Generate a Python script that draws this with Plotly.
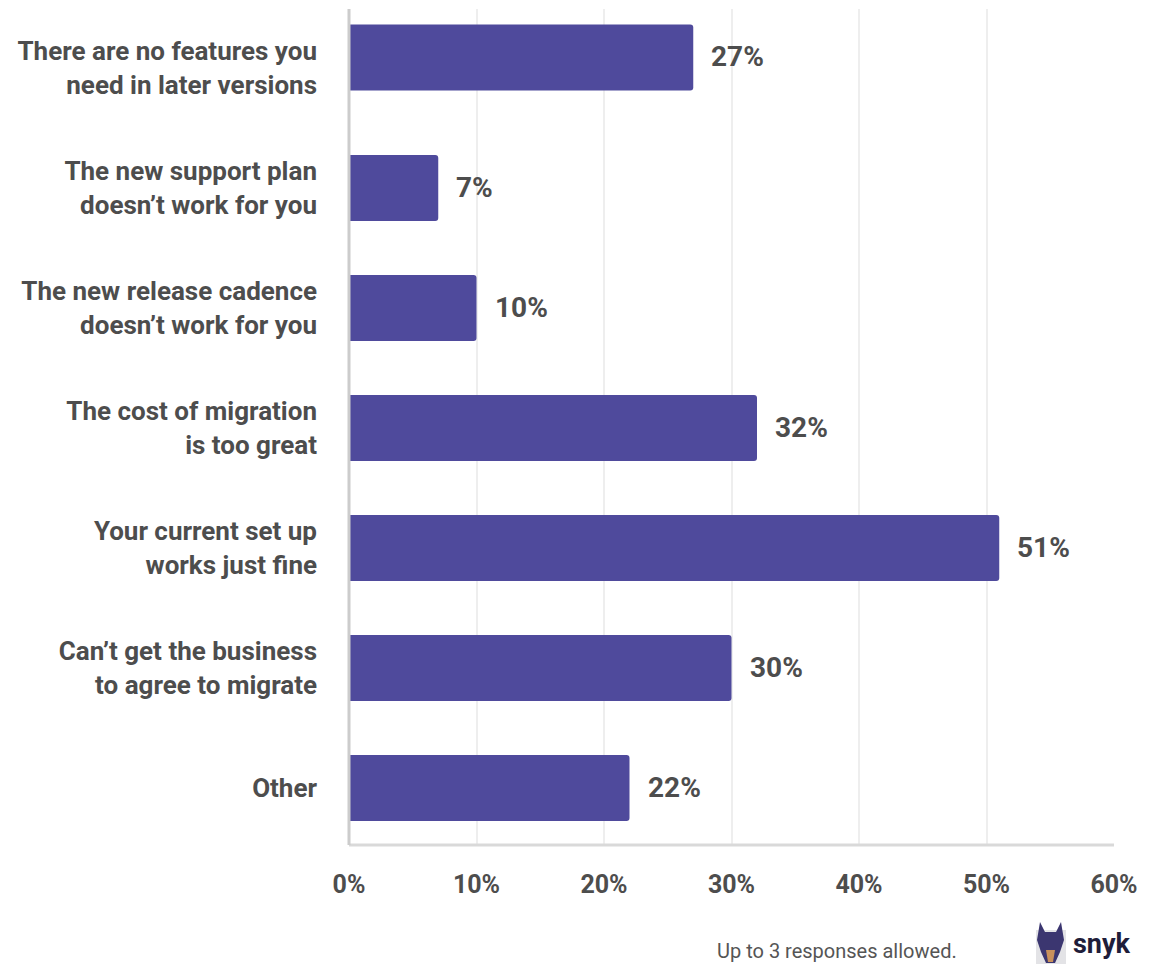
import plotly.graph_objects as go

categories = [
    "There are no features you<br>need in later versions",
    "The new support plan<br>doesn’t work for you",
    "The new release cadence<br>doesn’t work for you",
    "The cost of migration<br>is too great",
    "Your current set up<br>works just fine",
    "Can’t get the business<br>to agree to migrate",
    "Other",
]
values = [27, 7, 10, 32, 51, 30, 22]
value_labels = ["27%", "7%", "10%", "32%", "51%", "30%", "22%"]
tick_vals = [0, 10, 20, 30, 40, 50, 60]
tick_text = ["0%", "10%", "20%", "30%", "40%", "50%", "60%"]

BAR = "#4f4a9c"
TXT = "#4d4d4d"
FONT = "Roboto"

W, H = 1150, 964
L, R, T, B = 349, 1114, 9, 845  # plot area in pixels
SLOT = 120.0  # px per category
BAR_W = 0.55
# the first bar sits a little above its label in the original artwork
bar_nudge_px = [-10.5, 0, 0, 0, 0, 0, 0]


def px(x):
    return (x - L) / (R - L)


def py(y):
    return (B - y) / (B - T)


fig = go.Figure()
fig.add_trace(go.Bar(
    x=values, y=categories, orientation="h",
    width=BAR_W,
    offset=[-BAR_W / 2 + n / SLOT for n in bar_nudge_px],
    marker=dict(color=BAR, line=dict(width=0)),
    hoverinfo="skip",
))

annotations = []
for v, c, t, n in zip(values, categories, value_labels, bar_nudge_px):
    annotations.append(dict(
        x=v, y=c, xref="x", yref="y", text=f"<b>{t}</b>",
        showarrow=False, xanchor="left", yanchor="middle", xshift=16,
        yshift=-n + 1,
        font=dict(family=FONT, size=28, color=TXT),
    ))

annotations.append(dict(
    x=px(715), y=py(951), xref="paper", yref="paper",
    text="Up to 3 responses allowed.", showarrow=False,
    xanchor="left", yanchor="middle",
    font=dict(family=FONT, size=20, color="#555555"),
))
annotations.append(dict(
    x=px(1071), y=py(944), xref="paper", yref="paper",
    text="<b>snyk</b>", showarrow=False,
    xanchor="left", yanchor="middle",
    font=dict(family=FONT, size=27, color="#1f1d3a"),
))

# simple approximation of the logo dog icon
dog_path = (
    f"M {px(1040)} {py(922)} L {px(1045)} {py(932)} L {px(1056)} {py(932)} "
    f"L {px(1061)} {py(922)} L {px(1064)} {py(940)} L {px(1060)} {py(952)} "
    f"L {px(1055)} {py(963)} L {px(1046)} {py(963)} L {px(1041)} {py(952)} "
    f"L {px(1037)} {py(940)} Z"
)
shapes = [
    dict(type="rect", xref="paper", yref="paper",
         x0=px(1036), x1=px(1066), y0=py(964), y1=py(930),
         fillcolor="#e3e3e6", line=dict(width=0), layer="above"),
    dict(type="path", xref="paper", yref="paper", path=dog_path,
         fillcolor="#3b3670", line=dict(width=0), layer="above"),
    dict(type="path", xref="paper", yref="paper",
         path=(f"M {px(1046)} {py(950)} L {px(1055)} {py(950)} L {px(1053)} {py(962)} "
               f"L {px(1048)} {py(962)} Z"),
         fillcolor="#c9915c", line=dict(width=0), layer="above"),
    # axis lines
    dict(type="line", xref="paper", yref="paper",
         x0=0, x1=1, y0=0, y1=0, line=dict(color="#d9d9d9", width=3), layer="above"),
    dict(type="line", xref="paper", yref="paper",
         x0=0, x1=0, y0=0, y1=1, line=dict(color="#cccccc", width=3), layer="above"),
]

top = -(68 - T) / SLOT
bottom = top + (B - T) / SLOT

fig.update_layout(
    width=W, height=H,
    margin=dict(l=L, r=W - R, t=T, b=H - B, pad=0),
    paper_bgcolor="white", plot_bgcolor="white",
    showlegend=False,
    barcornerradius=3,
    font=dict(family=FONT, color=TXT),
    xaxis=dict(
        range=[0, 60], tickvals=tick_vals, ticktext=[f"<b>{t}</b>" for t in tick_text],
        showgrid=True, gridcolor="#eeeeee", gridwidth=2,
        zeroline=False, showline=False,
        ticks="", ticklabelstandoff=22,
        tickfont=dict(family=FONT, size=25, color=TXT),
        fixedrange=True,
    ),
    yaxis=dict(
        range=[bottom, top],
        showgrid=False, zeroline=False, showline=False,
        ticks="", ticklabelstandoff=31,
        tickvals=categories, ticktext=[f"<b>{c}</b>" for c in categories],
        tickfont=dict(family=FONT, size=26, color=TXT),
        fixedrange=True,
    ),
    annotations=annotations,
    shapes=shapes,
)

fig.write_html("out.html")
